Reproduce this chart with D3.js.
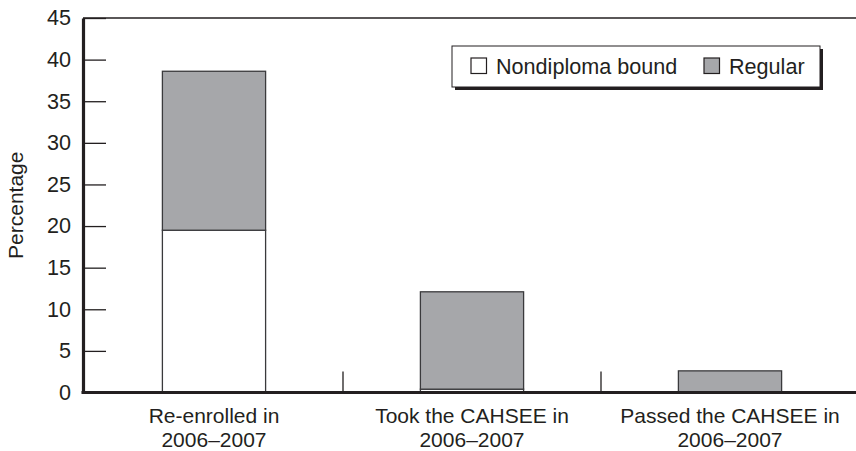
<!doctype html>
<html lang="en">
<head>
<meta charset="utf-8">
<script src="https://d3js.org/d3.v7.min.js"></script>
<style>
  body { margin: 0; background: #fff; }
  svg text { font-family: "Liberation Sans", Arial, sans-serif; fill: #231f20; }
</style>
</head>
<body>
<svg width="856" height="451"></svg>
<script>
// chart values
var categories = ["Re-enrolled in\n2006\u20132007", "Took the CAHSEE in\n2006\u20132007", "Passed the CAHSEE in\n2006\u20132007"];
var nondiploma = [19.5, 0.4, 0];
var regular = [19.1, 11.7, 2.6];
var seriesNames = ["Nondiploma bound", "Regular"];
var yTicks = [0, 5, 10, 15, 20, 25, 30, 35, 40, 45];

var ink = "#231f20";
var colors = { "Nondiploma bound": "#ffffff", "Regular": "#a6a7aa" };
var fontSize = 21.6;

var svg = d3.select("svg");

var x = d3.scaleBand()
    .domain(categories)
    .range([85, 859])
    .paddingInner(0.6)
    .paddingOuter(0.3);
var y = d3.scaleLinear()
    .domain([0, 45])
    .range([392.5, 18]);

var rows = categories.map(function(c, i) {
    return { cat: c, "Nondiploma bound": nondiploma[i], "Regular": regular[i] };
});
var stacked = d3.stack().keys(seriesNames)(rows);

// top frame line
svg.append("line")
    .attr("x1", 83).attr("x2", 856)
    .attr("y1", y(45)).attr("y2", y(45))
    .attr("stroke", ink).attr("stroke-width", 1.3);

// bars
stacked.forEach(function(layer) {
    svg.append("g").selectAll("rect")
        .data(layer.filter(function(d) { return d[1] - d[0] > 0; }))
        .enter().append("rect")
        .attr("x", function(d) { return x(d.data.cat); })
        .attr("width", x.bandwidth())
        .attr("y", function(d) { return y(d[1]); })
        .attr("height", function(d) { return y(d[0]) - y(d[1]); })
        .attr("fill", colors[layer.key])
        .attr("stroke", "#3a3a3c")
        .attr("stroke-width", 1.3);
});

// y axis with inward ticks
var yAxis = svg.append("g")
    .attr("transform", "translate(83,0)")
    .call(d3.axisLeft(y).tickValues(yTicks).tickSizeInner(-23).tickSizeOuter(0).tickPadding(12));
yAxis.select(".domain").attr("stroke", ink).attr("stroke-width", 3.2);
yAxis.selectAll(".tick line").attr("stroke", ink).attr("stroke-width", 1.3);
yAxis.selectAll(".tick text")
    .attr("font-size", fontSize)
    .attr("font-family", "Liberation Sans, Arial, sans-serif")
    .attr("fill", ink);

// x axis: baseline, category separators, two-line labels
var step = x.step();
var seps = categories.slice(1).map(function(c) { return x(c) - x.paddingInner() * step / 2; });
svg.append("g").selectAll("line")
    .data(seps)
    .enter().append("line")
    .attr("x1", function(d) { return d; }).attr("x2", function(d) { return d; })
    .attr("y1", y(0)).attr("y2", y(0) - 21)
    .attr("stroke", ink).attr("stroke-width", 1.3);

var xAxis = svg.append("g")
    .attr("transform", "translate(0," + y(0) + ")")
    .call(d3.axisBottom(x).tickSize(0).tickPadding(0));
xAxis.select(".domain").remove();
xAxis.selectAll(".tick text").each(function(d) {
    var t = d3.select(this).text(null)
        .attr("font-size", 21)
        .attr("font-family", "Liberation Sans, Arial, sans-serif")
        .attr("fill", ink)
        .attr("dy", null)
        .attr("y", 0);
    d.split("\n").forEach(function(line, i) {
        t.append("tspan").attr("x", 0).attr("y", 30 + i * 24).text(line);
    });
});

svg.append("line")
    .attr("x1", 81.5).attr("x2", 856)
    .attr("y1", y(0)).attr("y2", y(0))
    .attr("stroke", ink).attr("stroke-width", 3.2);

svg.append("text")
    .attr("transform", "translate(23," + y(22.5) + ") rotate(-90)")
    .attr("text-anchor", "middle")
    .attr("font-size", 21)
    .text("Percentage");

// legend
var legend = svg.append("g").attr("transform", "translate(452,46)");
legend.append("rect")
    .attr("x", 3).attr("y", 3).attr("width", 368).attr("height", 41)
    .attr("fill", ink);
legend.append("rect")
    .attr("x", 0).attr("y", 0).attr("width", 368).attr("height", 41)
    .attr("fill", "#fff").attr("stroke", ink).attr("stroke-width", 1);
var legendX = [19, 252];
seriesNames.forEach(function(name, i) {
    var g = legend.append("g").attr("transform", "translate(" + legendX[i] + ",12)");
    g.append("rect")
        .attr("width", 15.5).attr("height", 15.5)
        .attr("fill", colors[name])
        .attr("stroke", ink).attr("stroke-width", 1.2);
    g.append("text")
        .attr("x", 25).attr("y", 15.5)
        .attr("font-size", fontSize)
        .text(name);
});
</script>
</body>
</html>
